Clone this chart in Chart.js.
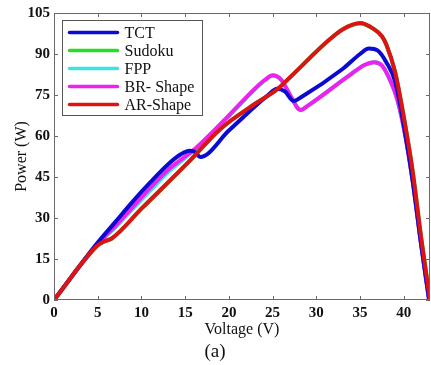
<!DOCTYPE html>
<html>
<head>
<meta charset="utf-8">
<script src="https://cdn.jsdelivr.net/npm/chart.js"></script>
<style>
  html, body { margin: 0; padding: 0; background: #fff; }
  canvas { display: block; }
</style>
</head>
<body>
<canvas id="pv-chart" width="431" height="365"></canvas>
<script>
// Tick values
const voltageTicks = [0, 5, 10, 15, 20, 25, 30, 35, 40]
const powerTicks = [0, 15, 30, 45, 60, 75, 90, 105]

// TCT
const tctVoltage = [0, 5, 7, 9, 11, 13, 14.5, 15.5, 16.2, 16.7, 20, 24.5, 25.5, 26.4, 27.4, 28.3, 33, 35, 36, 37, 38, 39, 40, 41, 42, 42.9]
const tctPower = [0, 21, 28.5, 36, 43, 49.5, 53.3, 54.6, 54, 52.3, 62, 75, 77.3, 76.3, 72.8, 74.3, 84.5, 90, 92, 91.3, 87, 80, 64, 44, 20, 0]

// Sudoku (hidden under AR-Shape)
const sudokuVoltage = [0, 5, 5.8, 6.6, 10, 15.4, 19, 23, 25.5, 27, 31.4, 33, 35, 36.5, 37.5, 38, 39, 40, 41, 42, 43]
const sudokuPower = [0, 20, 21.5, 22.5, 33.4, 50.5, 62.5, 71.8, 77, 81.5, 95, 99, 101.2, 99.3, 96.5, 93.5, 83.5, 67, 47.5, 22.5, 0]

// FPP
const fppVoltage = [0, 5, 7, 9, 11, 13, 15, 16.2, 20, 23, 24.2, 25, 26, 27, 28.2, 29, 33.5, 35.5, 36.6, 37.5, 38.5, 39.2, 40, 41, 42, 42.9]
const fppPower = [0, 20.5, 26.5, 33.3, 40, 46.6, 52, 55.3, 67.3, 77.2, 80.5, 82, 80.5, 75, 69.5, 71, 81.5, 86, 87, 85.8, 80, 74, 63, 44, 20, 0]

// BR- Shape
const brVoltage = [0, 5, 7, 9, 11, 13, 15, 16.2, 20, 23, 24.2, 25, 26, 27, 28.2, 29, 33.5, 35.5, 36.6, 37.5, 38.5, 39.2, 40, 41, 42, 42.9]
const brPower = [0, 20.5, 27, 34, 41, 47.5, 52.5, 55.5, 67.5, 77.4, 80.7, 82.2, 80.5, 75, 69.5, 71, 81.5, 86, 87, 85.8, 80, 74, 63, 44, 20, 0]

// AR-Shape
const arVoltage = [0, 5, 5.8, 6.6, 10, 15.4, 19, 23, 25.5, 27, 31.4, 33, 35, 36.5, 37.5, 38, 39, 40, 41, 42, 43]
const arPower = [0, 20, 21.5, 22.5, 33.4, 50.5, 62.5, 71.8, 77, 81.5, 95, 99, 101.3, 99.3, 96.5, 93.5, 83.5, 67, 47.5, 22.5, 0]

const toPoints = (xs, ys) => xs.map((x, i) => ({ x: x, y: ys[i] }))

const seriesList = [
  { label: "TCT", color: "#0a0ad2", v: tctVoltage, p: tctPower, order: 1 },
  { label: "Sudoku", color: "#27dd27", v: sudokuVoltage, p: sudokuPower, order: 4 },
  { label: "FPP", color: "#3ee2e2", v: fppVoltage, p: fppPower, order: 3 },
  { label: "BR- Shape", color: "#ee22ee", v: brVoltage, p: brPower, order: 2 },
  { label: "AR-Shape", color: "#dd1414", v: arVoltage, p: arPower, order: 0 },
]

const serif = "'Liberation Serif', 'Times New Roman', serif"

// box round the plot with inward ticks, like matlab
const frameBox = {
  id: "frameBox",
  afterDatasetsDraw(chart) {
    const { ctx, chartArea: a, scales } = chart
    ctx.save()
    ctx.strokeStyle = "#6a6a6a"
    ctx.lineWidth = 1
    ctx.strokeRect(a.left + 0.5, a.top + 0.5, a.right - a.left - 1, a.bottom - a.top - 1)
    ctx.beginPath()
    voltageTicks.forEach((v) => {
      const x = Math.round(scales.x.getPixelForValue(v)) + 0.5
      ctx.moveTo(x, a.top); ctx.lineTo(x, a.top + 4)
      ctx.moveTo(x, a.bottom); ctx.lineTo(x, a.bottom - 4)
    })
    powerTicks.forEach((p) => {
      const y = Math.round(scales.y.getPixelForValue(p)) + 0.5
      ctx.moveTo(a.left, y); ctx.lineTo(a.left + 4, y)
      ctx.moveTo(a.right, y); ctx.lineTo(a.right - 4, y)
    })
    ctx.stroke()
    ctx.restore()
  },
}

// legend drawn inside the plot area
const insideLegend = {
  id: "insideLegend",
  afterDraw(chart) {
    const ctx = chart.ctx
    const a = chart.chartArea
    const bx = a.left + 8.5, by = a.top + 7.5, bw = 140, bh = 95
    ctx.save()
    ctx.fillStyle = "#fff"
    ctx.fillRect(bx, by, bw, bh)
    ctx.strokeStyle = "#555"
    ctx.lineWidth = 1
    ctx.strokeRect(bx, by, bw, bh)
    ctx.font = "16px " + serif
    ctx.textBaseline = "middle"
    chart.data.datasets.forEach((ds, i) => {
      const y = by + 12 + i * 18
      ctx.strokeStyle = ds.borderColor
      ctx.lineWidth = 3.5
      ctx.lineCap = "round"
      ctx.beginPath()
      ctx.moveTo(bx + 7, y)
      ctx.lineTo(bx + 55, y)
      ctx.stroke()
      ctx.fillStyle = "#111"
      ctx.fillText(ds.label, bx + 62, y + 1)
    })
    ctx.restore()
  },
}

const chart = new Chart(document.getElementById("pv-chart"), {
  type: "line",
  data: {
    datasets: seriesList.map((s) => ({
      label: s.label,
      data: toPoints(s.v, s.p),
      borderColor: s.color,
      backgroundColor: s.color,
      borderWidth: 4,
      pointRadius: 0,
      cubicInterpolationMode: "monotone",
      order: s.order,
    })),
  },
  options: {
    responsive: false,
    animation: false,
    layout: { padding: { top: 13, right: 1, left: 0, bottom: 0 } },
    plugins: {
      legend: { display: false },
      tooltip: { enabled: false },
      title: {
        display: true,
        text: "(a)",
        position: "bottom",
        color: "#111",
        font: { family: serif, size: 19, weight: "normal" },
        padding: { top: 0, bottom: 2 },
      },
    },
    scales: {
      x: {
        type: "linear",
        min: 0,
        max: 43,
        afterBuildTicks: (s) => { s.ticks = voltageTicks.map((v) => ({ value: v })) },
        afterFit: (s) => { s.height = 40.2 },
        grid: { display: false, drawTicks: false },
        border: { display: false },
        ticks: { color: "#111", padding: 4, font: { family: serif, size: 15, weight: "bold" } },
        title: {
          display: true,
          text: "Voltage (V)",
          color: "#111",
          font: { family: serif, size: 16, weight: "normal" },
          padding: { top: 0, bottom: 1 },
        },
      },
      y: {
        min: 0,
        max: 105,
        afterBuildTicks: (s) => { s.ticks = powerTicks.map((p) => ({ value: p })) },
        afterFit: (s) => { s.width = 54 },
        grid: { display: false, drawTicks: false },
        border: { display: false },
        ticks: { color: "#111", padding: 4, font: { family: serif, size: 15, weight: "bold" } },
        title: {
          display: true,
          text: "Power (W)",
          color: "#111",
          font: { family: serif, size: 16, weight: "normal" },
          padding: { top: 12, bottom: 0 },
        },
      },
    },
  },
  plugins: [frameBox, insideLegend],
})
</script>
</body>
</html>
